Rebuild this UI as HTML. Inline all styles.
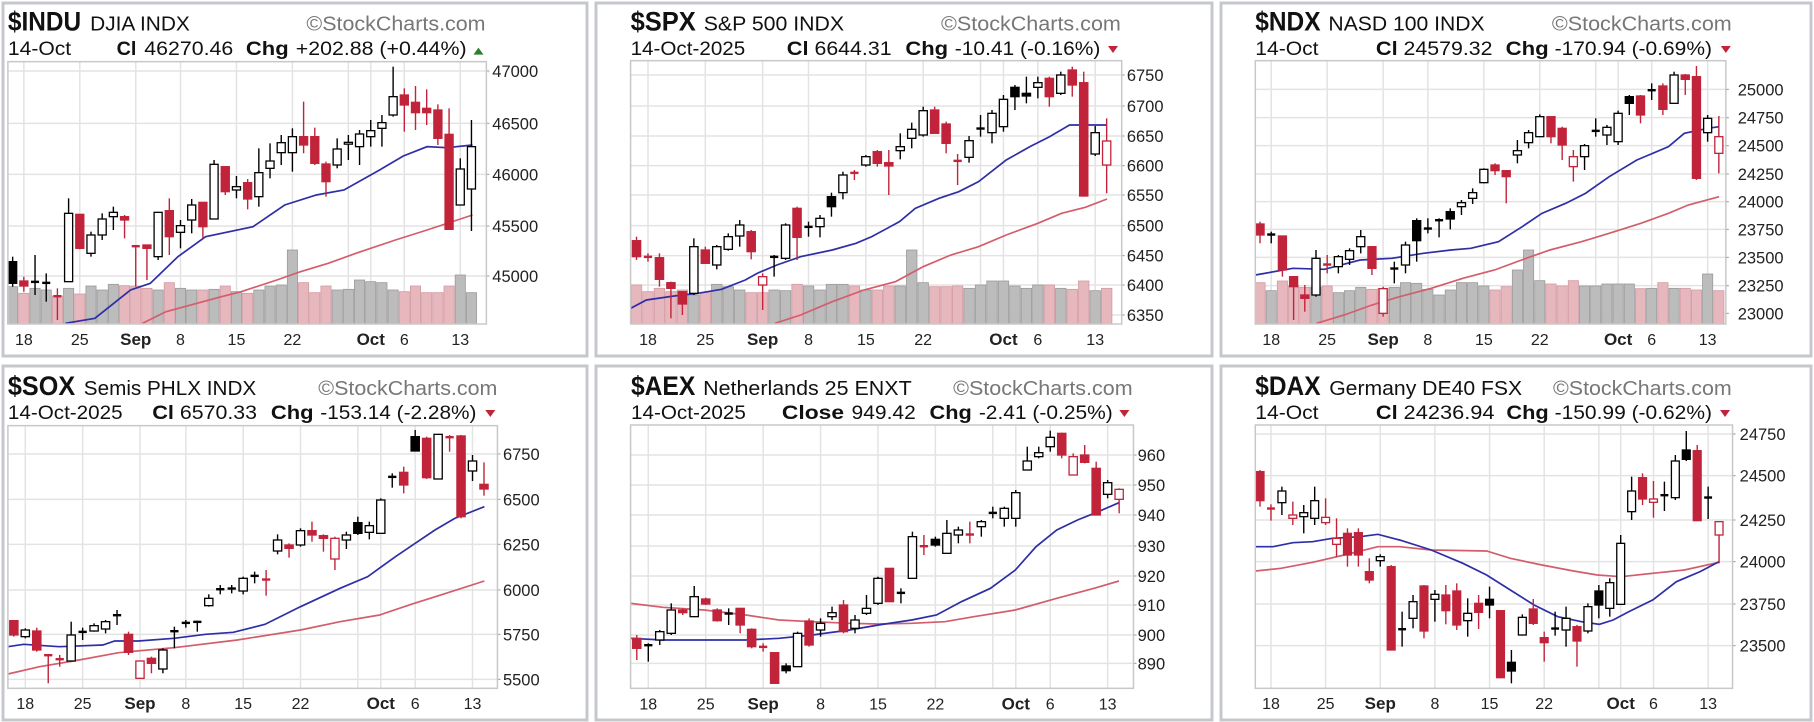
<!DOCTYPE html>
<html><head><meta charset="utf-8">
<style>
html,body{margin:0;padding:0;background:#fff;}
svg{display:block;}
text{font-family:"Liberation Sans",Arial,sans-serif;}
</style></head>
<body>
<svg id="s" width="1814" height="722" viewBox="0 0 1814 722" xmlns="http://www.w3.org/2000/svg"></svg>
<script>
const US_L=[["18",1],["25",6],["Sep",11,1],["8",15],["15",20],["22",25],["Oct",32,1],["6",35],["13",40]];
const EU_L=[["18",1],["25",6],["Sep",11,1],["8",16],["15",21],["22",26],["Oct",33,1],["6",36],["13",41]];
const US_G=[1,6,11,15,20,25,30,32,35,40], EU_G=[1,6,11,16,21,26,31,33,36,41];
const P=[
{ox:0,oy:0,sx:2.529,plot:[20,185,1230,972],x0:32,dx:28.3,labx:1245,xlY:1035,L:US_L,G:US_G,
 yt:[["47000",213],["46500",370],["46000",523],["45500",678],["45000",828]],
 head:[["$INDU",20,205,92,1,27],["DJIA  INDX",228,480,92,0,20],["©StockCharts.com",775,1228,92,2,20],
  ["14-Oct",20,180,165,0,19],["Cl",295,345,165,1,19],["46270.46",365,590,165,0,19],["Chg",622,730,165,1,19],["+202.88 (+0.44%)",748,1180,165,0,19]],
 tri:[1210,155,1],
 c:`b 785 850 770 860|r 843 858 830 875|b 845 852 765 885|b 848 852 820 905|r 888 895 865 960|h 640 845 595 845|r 643 745 643 748|h 705 760 695 770|h 657 705 640 720|h 637 650 620 690|r 650 660 645 715|r 738 742 738 860|r 735 745 735 840|h 637 770 637 780|r 632 710 595 765|h 677 697 660 745|h 615 660 597 700|r 607 680 607 715|h 493 657 480 657|r 500 575 500 585|h 560 570 528 595|r 548 597 537 628|h 518 590 445 620|h 483 505 430 535|h 428 458 405 495|h 410 458 385 515|r 410 435 305 460|r 410 490 383 495|r 492 545 485 590|h 447 495 415 505|h 427 430 405 480|h 402 440 390 495|h 392 410 360 440|h 368 385 345 440|h 290 345 200 350|r 285 315 265 395|r 307 338 258 390|r 325 338 268 375|r 330 415 313 435|r 403 688 325 688|h 507 615 475 615|h 440 567 360 693`,
 blue:[[165,970],[240,955],[330,870],[380,850],[450,770],[520,710],[640,680],[720,615],[800,585],[870,570],[960,510],[1020,468],[1080,440],[1130,443],[1195,435]],
 red:[[360,970],[420,935],[560,890],[610,875],[700,840],[760,815],[830,790],[900,760],[1000,720],[1080,690],[1195,645]],
 vol:[860,880,865,870,888,865,882,858,870,853,857,858,865,870,848,865,870,870,868,858,875,880,870,858,855,750,848,878,858,870,868,840,845,848,870,875,858,878,878,858,825,878]},
{ox:595,oy:0,sx:2.529,plot:[90,182,1332,972],x0:105,dx:29,labx:1345,xlY:1035,L:US_L,G:US_G,
 yt:[["6750",225],["6700",318],["6650",408],["6600",497],["6550",585],["6500",677],["6450",767],["6400",855],["6350",945]],
 head:[["$SPX",90,255,92,1,27],["S&P 500  INDX",275,630,92,0,20],["©StockCharts.com",875,1330,92,2,20],
  ["14-Oct-2025",90,380,165,0,19],["Cl",485,540,165,1,19],["6644.31",555,750,165,0,19],["Chg",785,893,165,1,19],["-10.41 (-0.16%)",910,1278,165,0,19]],
 tri:[1310,150,0],
 c:`r 722 770 710 780|r 770 775 760 785|r 773 838 760 860|r 848 865 845 955|r 875 912 875 945|h 740 880 715 885|r 750 790 740 790|h 740 795 735 808|h 710 748 700 752|h 675 708 660 740|r 695 755 690 778|x 830 855 820 930|b 770 775 765 830|h 675 775 670 780|r 625 712 620 780|b 680 685 665 710|h 655 680 645 712|b 590 620 578 650|h 525 578 515 598|r 518 525 510 540|h 470 495 465 500|r 455 490 450 500|r 488 498 450 585|h 440 452 400 478|h 388 415 368 445|h 332 405 320 410|r 330 400 320 400|r 372 430 365 460|r 482 488 462 555|h 422 472 408 488|b 385 388 345 410|h 340 398 330 430|h 298 380 285 395|b 262 290 255 330|b 280 288 230 310|h 248 262 230 295|r 235 290 230 320|h 225 280 215 285|r 210 255 200 290|r 248 588 215 590|h 398 462 378 468|x 423 495 355 580`,
 blue:[[90,925],[130,900],[200,888],[260,880],[320,868],[380,840],[410,820],[460,795],[520,770],[600,750],[660,730],[700,710],[770,665],[810,625],[870,595],[920,575],[970,545],[1040,480],[1100,440],[1150,410],[1200,375],[1295,375]],
 red:[[455,970],[520,945],[600,905],[680,870],[760,845],[830,800],[900,765],[970,740],[1040,705],[1120,670],[1180,640],[1240,622],[1295,597]],
 vol:[855,875,865,875,870,885,878,853,860,870,878,878,870,872,853,858,870,853,853,858,870,870,858,858,750,848,860,860,858,865,855,843,843,858,865,855,855,865,868,843,872,865]},
{ox:1194,oy:0,sx:2.529,plot:[155,182,1345,972],x0:167,dx:28.3,labx:1375,xlY:1035,L:US_L,G:US_G,
 yt:[["25000",268],["24750",353],["24500",437],["24250",522],["24000",605],["23750",688],["23500",772],["23250",857],["23000",940]],
 head:[["$NDX",155,320,92,1,27],["NASD 100  INDX",340,735,92,0,20],["©StockCharts.com",905,1360,92,2,20],
  ["14-Oct",155,315,165,0,19],["Cl",460,515,165,1,19],["24579.32",530,755,165,0,19],["Chg",788,897,165,1,19],["-170.94 (-0.69%)",912,1310,165,0,19]],
 tri:[1345,150,0],
 c:`r 672 705 665 730|b 703 708 695 730|r 708 810 708 830|r 830 860 830 960|r 885 895 855 935|h 775 885 750 890|r 793 800 765 820|h 770 800 765 820|h 752 778 745 795|h 710 740 690 760|r 740 805 738 825|x 866 940 860 950|b 805 810 785 850|h 735 795 725 820|b 662 722 655 785|b 685 690 655 700|b 660 665 655 712|b 635 657 625 688|h 608 620 600 645|h 578 595 565 612|h 508 548 505 550|r 495 512 490 525|r 512 530 510 610|h 452 465 420 490|h 398 428 390 445|h 350 410 343 410|r 350 410 350 430|r 385 435 380 480|x 470 500 450 545|h 437 470 432 510|b 392 397 355 410|h 382 405 375 435|h 340 425 332 435|b 290 310 285 345|r 288 345 285 370|b 270 275 250 300|r 258 328 250 345|h 225 310 215 310|r 225 238 222 285|r 230 535 198 540|h 355 398 345 425|x 410 460 348 520`,
 blue:[[155,825],[250,805],[330,808],[420,780],[500,775],[580,760],[650,750],[700,745],[770,725],[830,680],[880,640],[940,610],[990,580],[1050,530],[1120,480],[1200,440],[1240,400],[1300,385],[1328,380]],
 red:[[310,970],[380,945],[450,915],[520,890],[600,865],[680,835],[760,810],[840,775],[900,750],[980,725],[1050,700],[1130,670],[1200,640],[1250,615],[1328,590]],
 vol:[848,872,843,858,862,862,858,878,872,862,868,865,862,848,850,868,885,870,848,848,858,870,860,810,750,842,852,858,842,858,858,852,852,852,866,865,848,865,865,870,822,872]},
{ox:0,oy:355,sx:2.529,plot:[20,212,1258,1000],x0:35,dx:29,labx:1272,xlY:1062,L:US_L,G:US_G,
 yt:[["6750",297],["6500",433],["6250",568],["6000",705],["5750",838],["5500",973]],
 head:[["$SOX",20,190,120,1,27],["Semis PHLX  INDX",212,648,120,0,20],["©StockCharts.com",805,1258,120,2,20],
  ["14-Oct-2025",20,310,192,0,19],["Cl",385,440,192,1,19],["6570.33",455,650,192,0,19],["Chg",685,793,192,1,19],["-153.14 (-2.28%)",810,1205,192,0,19]],
 tri:[1240,177,0],
 c:`r 797 840 795 845|h 825 845 820 850|r 828 885 818 890|r 900 905 900 985|r 912 916 900 935|h 840 918 800 920|b 830 835 818 855|h 812 828 805 830|h 800 822 795 835|b 780 785 765 810|r 838 892 830 900|x 918 970 918 972|r 910 925 905 955|h 885 942 880 955|b 828 832 815 880|b 803 806 795 818|b 800 803 797 830|h 730 752 718 755|b 702 706 690 718|b 700 705 690 715|h 670 708 665 718|b 662 665 650 685|r 673 676 645 722|h 555 588 538 598|r 570 580 565 608|h 527 570 520 575|r 527 540 500 560|r 542 550 538 590|x 550 612 545 645|h 540 555 530 582|b 503 535 485 540|h 512 532 500 553|h 435 535 430 535|b 365 368 355 398|r 352 390 335 415|b 245 288 225 288|r 250 368 245 372|h 238 372 238 372|r 246 250 240 290|r 243 485 240 490|h 318 348 300 378|r 388 402 322 422`,
 blue:[[20,875],[60,868],[150,875],[260,870],[290,858],[350,858],[440,850],[520,838],[590,832],[670,808],[760,755],[860,700],[930,665],[1000,605],[1050,565],[1100,525],[1150,490],[1225,455]],
 red:[[20,957],[100,935],[200,915],[300,893],[440,878],[600,855],[760,825],[860,800],[960,780],[1040,748],[1120,718],[1225,678]],
 vol:null},
{ox:580,oy:300,sx:2.412,plot:[122,375,1335,1165],x0:137,dx:27.7,labx:1345,xlY:1228,L:EU_L,G:EU_G,
 yt:[["960",465],["950",555],["940",645],["930",738],["920",828],["910",915],["900",1005],["890",1090]],
 head:[["$AEX",123,278,285,1,27],["Netherlands 25  ENXT",297,800,285,0,20],["©StockCharts.com",900,1333,285,2,20],
  ["14-Oct-2025",123,400,357,0,19],["Close",487,637,357,1,19],["949.42",655,810,357,0,19],["Chg",843,945,357,1,19],["-2.41 (-0.25%)",962,1285,357,0,19]],
 tri:[1313,342,0],
 c:`r 1015 1045 1005 1080|b 1035 1040 1030 1085|h 995 1020 990 1035|h 930 1000 910 1005|r 930 938 925 945|h 890 950 858 950|r 897 912 893 915|r 930 962 925 965|b 940 945 925 975|r 925 975 925 1000|r 988 1040 985 1045|r 1040 1043 1030 1055|r 1058 1150 1058 1150|b 1098 1112 1090 1120|h 1000 1100 995 1100|r 963 1035 955 1040|h 970 990 955 1010|h 938 950 920 960|r 915 995 900 1000|h 960 985 945 1000|h 925 940 885 945|h 835 910 830 915|r 805 905 805 905|b 878 882 865 910|h 710 835 695 835|r 738 742 705 765|b 718 735 710 740|h 700 760 660 762|h 690 705 680 730|r 703 707 665 730|h 665 680 660 710|b 638 642 620 655|h 625 655 620 680|h 578 655 570 680|h 483 510 440 510|h 458 470 440 475|h 412 440 392 455|r 400 465 398 475|x 470 525 460 525|r 465 487 435 490|r 505 645 485 645|h 548 583 540 595|x 568 598 565 640`,
 blue:[[122,1015],[200,1020],[400,1020],[480,1015],[560,1005],[650,990],[720,975],[800,960],[860,945],[920,905],[990,865],[1050,810],[1100,740],[1150,690],[1200,660],[1250,635],[1300,608]],
 red:[[122,910],[200,922],[300,930],[400,945],[480,960],[560,965],[650,970],[720,972],[800,970],[880,965],[950,950],[1050,930],[1150,895],[1240,865],[1300,843]],
 vol:null},
{ox:1194,oy:355,sx:2.529,plot:[155,210,1362,1000],x0:167,dx:27.64,labx:1380,xlY:1062,L:EU_L,G:EU_G,
 yt:[["24750",237],["24500",362],["24250",495],["24000",620],["23750",747],["23500",872]],
 head:[["$DAX",155,320,120,1,27],["Germany DE40  FSX",342,830,120,0,20],["©StockCharts.com",908,1360,120,2,20],
  ["14-Oct",155,315,192,0,19],["Cl",460,515,192,1,19],["24236.94",530,760,192,0,19],["Chg",790,897,192,1,19],["-150.99 (-0.62%)",912,1310,192,0,19]],
 tri:[1343,177,0],
 c:`r 350 437 345 455|r 460 463 448 497|h 408 443 395 480|x 480 490 440 510|h 473 485 450 535|h 437 490 395 510|x 487 503 430 510|x 550 568 490 605|r 535 600 520 635|r 533 600 520 635|r 650 675 610 685|h 605 617 598 635|r 635 885 630 885|b 822 826 770 875|h 740 790 720 820|r 693 828 690 850|h 718 733 705 800|r 720 767 690 808|r 708 810 685 825|h 775 797 730 845|r 745 772 720 822|b 733 750 695 790|r 767 968 765 970|b 922 948 885 985|h 787 840 778 842|r 762 805 732 810|r 848 863 830 920|b 820 823 770 842|h 790 825 755 875|r 815 858 810 935|h 755 828 745 835|b 708 750 690 790|h 683 760 670 785|h 565 748 540 750|h 408 470 365 495|r 368 432 355 450|x 432 442 378 488|b 420 423 380 468|h 318 428 300 435|b 285 313 228 318|r 287 497 270 497|b 427 430 395 492|x 500 540 500 625`,
 blue:[[155,575],[200,575],[250,563],[300,560],[350,550],[420,545],[465,538],[520,555],[600,585],[680,625],[740,660],[800,705],[860,750],[920,785],[980,800],[1025,808],[1060,795],[1100,770],[1160,735],[1220,680],[1280,650],[1328,620]],
 red:[[155,648],[220,640],[300,622],[380,600],[465,575],[520,575],[600,585],[740,588],[800,610],[880,630],[960,648],[1020,660],[1080,665],[1160,655],[1240,645],[1328,622]],
 vol:null}
];
const RED="#c1243a", RMA="#d35d6c", BMA="#2e2ea6";
let o=[];
function panelBox(x,y,w,h){o.push(`<rect x="${x}" y="${y}" width="${w}" height="${h}" fill="#fff" stroke="#c4c8cc" stroke-width="3"/>`);}
panelBox(3,3,584,353);panelBox(596,3,616,353);panelBox(1221,3,590,353);
panelBox(3,366,584,354);panelBox(596,366,616,354);panelBox(1221,366,590,354);
for(const p of P){
 const X=z=>(p.ox+z/p.sx), Y=z=>(p.oy+z/3), IX=i=>X(p.x0+i*p.dx);
 const [l,t,r,b]=p.plot;
 const L=X(l),T=Y(t),R=X(r),B=Y(b);
 for(const [s,zy] of p.yt){const y=Y(zy);o.push(`<line x1="${L}" y1="${y}" x2="${R}" y2="${y}" stroke="#e3e3e3" stroke-width="1.5"/>`);
  o.push(`<line x1="${R}" y1="${y}" x2="${R+3}" y2="${y}" stroke="#999" stroke-width="1"/>`);
  o.push(`<text x="${X(p.labx)}" y="${y+6}" font-size="16.5" fill="#222">${s}</text>`);}
 for(const g of p.G){const x=IX(g);o.push(`<line x1="${x}" y1="${T}" x2="${x}" y2="${B}" stroke="#e3e3e3" stroke-width="1.5"/>`);}
 const cs=p.c.split("|").map(s=>{const a=s.trim().split(/\s+/);return [a[0],+a[1],+a[2],+a[3],+a[4]];});
 const w=p.dx/p.sx;
 if(p.vol){p.vol.forEach((v,i)=>{if(i>=cs.length)return;const red=cs[i][0]=="r"||cs[i][0]=="x";
   const x=IX(i)-w/2, y=Y(v);o.push(`<rect x="${x+0.5}" y="${y}" width="${w-1}" height="${B-y}" fill="${red?"#e6b8bd":"#bcbcbc"}" stroke="${red?"#d39aa2":"#9a9a9a"}" stroke-width="0.8"/>`);});}
 const pl=(pts,c)=>o.push(`<polyline points="${pts.map(q=>X(q[0])+","+Y(q[1])).join(" ")}" fill="none" stroke="${c}" stroke-width="1.7"/>`);
 pl(p.red,RMA);pl(p.blue,BMA);
 const bw=w*0.72;
 cs.forEach((c,i)=>{const [ty,a,bb,wt,wb]=c;const x=IX(i);const col=(ty=="r"||ty=="x")?RED:"#000";
  o.push(`<line x1="${x}" y1="${Y(wt)}" x2="${x}" y2="${Y(wb)}" stroke="${col}" stroke-width="1.4"/>`);
  let y1=Y(a),h=Math.max(Y(bb)-y1,1.8);
  const fill=(ty=="h"||ty=="x")?"#fff":col;
  if(h<=2.5&&(ty=="b"||ty=="r")){o.push(`<rect x="${x-bw/2}" y="${y1-1}" width="${bw}" height="2.4" fill="${col}"/>`);}
  else o.push(`<rect x="${x-bw/2}" y="${y1}" width="${bw}" height="${h}" fill="${fill}" stroke="${col}" stroke-width="1.3"/>`);});
 o.push(`<rect x="${L}" y="${T}" width="${R-L}" height="${B-T}" fill="none" stroke="#c8c8c8" stroke-width="1.5"/>`);
 for(const [s,i,bo] of p.L){o.push(`<text x="${IX(i)}" y="${Y(p.xlY)}" font-size="${bo?17:16}" ${bo?'font-weight="bold"':''} text-anchor="middle" fill="#222">${s}</text>`);}
 for(const [s,z0,z1,zb,wt,fs] of p.head){
  const e=s.replace(/&/g,"&amp;");
  o.push(`<text x="${X(z0)}" y="${Y(zb)}" font-size="${fs}" ${wt==1?'font-weight="bold"':''} fill="${wt==2?"#777":"#111"}" textLength="${(z1-z0)/p.sx}" lengthAdjust="spacingAndGlyphs">${e}</text>`);}
 const [tx,ty,up]=p.tri;const cx=X(tx),cy=Y(ty);
 o.push(up?`<polygon points="${cx-5},${cy+3} ${cx+5},${cy+3} ${cx},${cy-4}" fill="#2e7d32"/>`:`<polygon points="${cx-5},${cy-4} ${cx+5},${cy-4} ${cx},${cy+3}" fill="${RED}"/>`);
}
document.getElementById("s").innerHTML=o.join("");
</script>
</body></html>
